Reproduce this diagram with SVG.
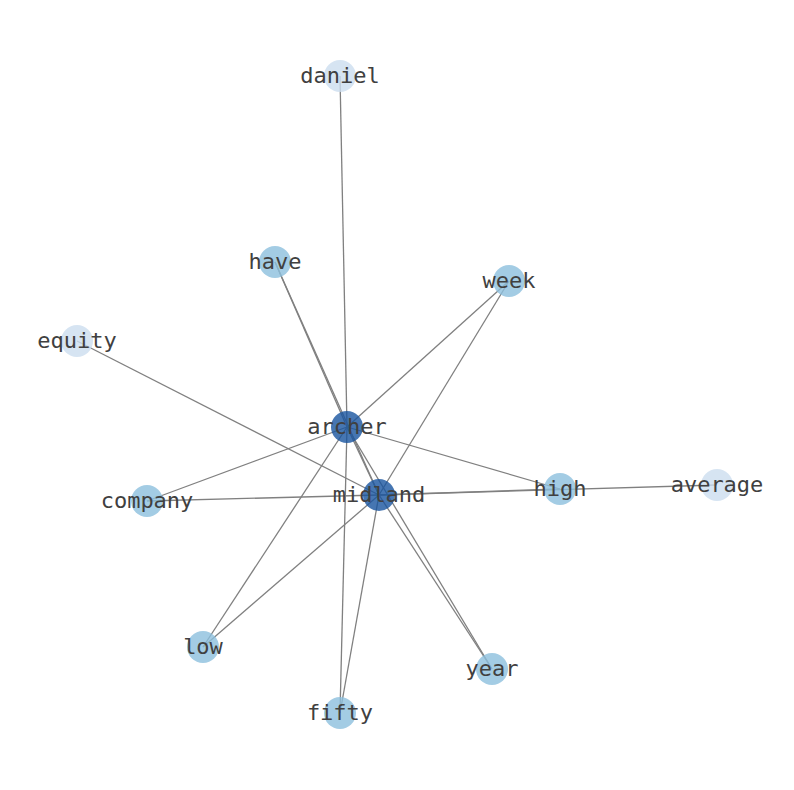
<svg xmlns="http://www.w3.org/2000/svg" width="794" height="790" viewBox="0 0 794 790">
<style>
.e{stroke:#808080;stroke-width:1.3;fill:none}
.n circle{stroke:none;opacity:0.8}
.d{fill:#18549f}
.m{fill:#8cbfdd}
.l{fill:#ccddef}
text{font-family:"DejaVu Sans Mono","Liberation Mono",monospace;font-size:22px;fill:#404040;text-anchor:middle;dominant-baseline:central}
</style>
<rect width="794" height="790" fill="#ffffff"/>
<g id="edges">
<line class="e" x1="340" y1="76" x2="347" y2="427"/>
<line class="e" x1="275" y1="262" x2="347" y2="427"/>
<line class="e" x1="275" y1="262" x2="379" y2="495"/>
<line class="e" x1="509" y1="281" x2="347" y2="427"/>
<line class="e" x1="509" y1="281" x2="379" y2="495"/>
<line class="e" x1="77" y1="341" x2="379" y2="495"/>
<line class="e" x1="347" y1="427" x2="379" y2="495"/>
<line class="e" x1="347" y1="427" x2="147" y2="501"/>
<line class="e" x1="379" y1="495" x2="147" y2="501"/>
<line class="e" x1="347" y1="427" x2="560" y2="489"/>
<line class="e" x1="379" y1="495" x2="560" y2="489"/>
<line class="e" x1="379" y1="495" x2="717" y2="485"/>
<line class="e" x1="347" y1="427" x2="203" y2="647"/>
<line class="e" x1="379" y1="495" x2="203" y2="647"/>
<line class="e" x1="347" y1="427" x2="340" y2="713"/>
<line class="e" x1="379" y1="495" x2="340" y2="713"/>
<line class="e" x1="347" y1="427" x2="492" y2="669"/>
<line class="e" x1="379" y1="495" x2="492" y2="669"/>
</g>
<g id="daniel" class="n"><circle class="l" cx="340" cy="76" r="16"/><text x="340" y="75">daniel</text></g>
<g id="have" class="n"><circle class="m" cx="275" cy="262" r="16"/><text x="275" y="261">have</text></g>
<g id="week" class="n"><circle class="m" cx="509" cy="281" r="16"/><text x="509" y="280">week</text></g>
<g id="equity" class="n"><circle class="l" cx="77" cy="341" r="16"/><text x="77" y="340">equity</text></g>
<g id="archer" class="n"><circle class="d" cx="347" cy="427" r="16"/><text x="347" y="426">archer</text></g>
<g id="midland" class="n"><circle class="d" cx="379" cy="495" r="16"/><text x="379" y="494">midland</text></g>
<g id="high" class="n"><circle class="m" cx="560" cy="489" r="16"/><text x="560" y="488">high</text></g>
<g id="average" class="n"><circle class="l" cx="717" cy="485" r="16"/><text x="717" y="484">average</text></g>
<g id="company" class="n"><circle class="m" cx="147" cy="501" r="16"/><text x="147" y="500">company</text></g>
<g id="low" class="n"><circle class="m" cx="203" cy="647" r="16"/><text x="203" y="646">low</text></g>
<g id="year" class="n"><circle class="m" cx="492" cy="669" r="16"/><text x="492" y="668">year</text></g>
<g id="fifty" class="n"><circle class="m" cx="340" cy="713" r="16"/><text x="340" y="712">fifty</text></g>
</svg>
